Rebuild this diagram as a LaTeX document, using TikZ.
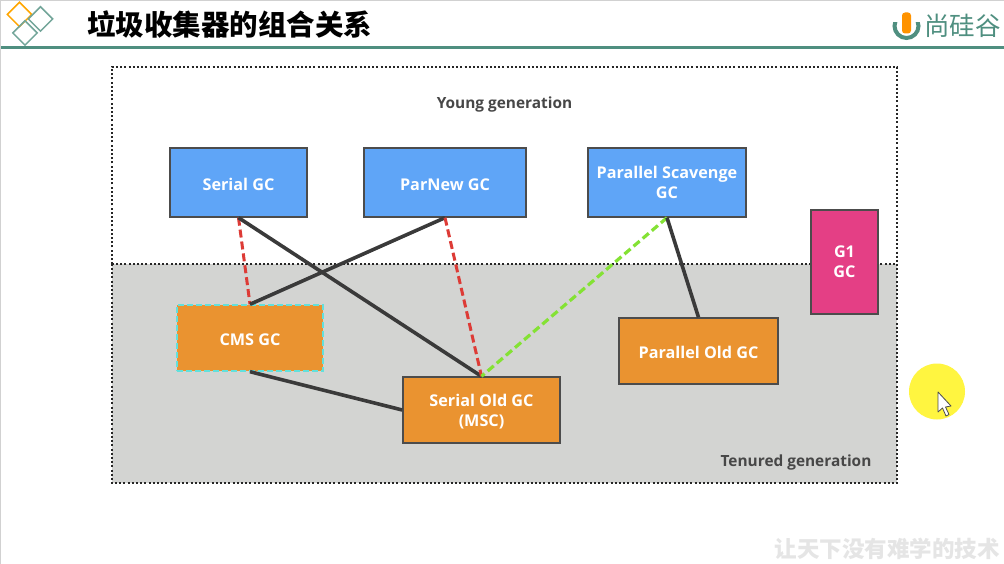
\documentclass[tikz,border=0pt]{standalone}
\usepackage{fontspec}
\setmainfont{Open Sans}
\newfontfamily\cjk{Noto Sans CJK SC}
\usetikzlibrary{shapes.geometric}
\definecolor{gcblue}{HTML}{5FA5F7}
\definecolor{gcorange}{HTML}{EA9330}
\definecolor{gcpink}{HTML}{E43F85}
\definecolor{gcgrey}{HTML}{D3D4D2}
\definecolor{gcteal}{HTML}{4F8F80}
\definecolor{gcline}{HTML}{3A3A3A}
\definecolor{gcred}{HTML}{DD3B36}
\definecolor{gcgreen}{HTML}{84E234}
\definecolor{gccyan}{HTML}{62E0DC}
\tikzset{youngbox/.style={shape=rectangle,draw=black!70,line width=1.4pt,fill=gcblue,text=white,align=center,
		font=\bfseries\fontsize{16.2}{20}\selectfont,minimum height=69pt,inner sep=0pt,
		execute at begin node={\rule{0pt}{16pt}}},
	oldbox/.style={youngbox,fill=gcorange,minimum height=66pt},
	regionline/.style={draw=black!85,line width=1.5pt,dash pattern=on 2pt off 2.2pt},
	region/.style={shape=rectangle,minimum width=785pt,inner sep=0pt},
	regionlabel/.style={font=\bfseries\fontsize{15.4}{18}\selectfont,text=black!72},
	solidlink/.style={draw=gcline,line width=3.6pt},
	redlink/.style={draw=gcred,line width=3pt,dash pattern=on 8pt off 4pt},
	greenlink/.style={draw=gcgreen,line width=3.2pt,dash pattern=on 8pt off 4pt},
	diamondmark/.style={shape=diamond,draw=#1,line width=1.5pt,minimum width=25pt,minimum height=25pt,inner sep=0pt}}

\begin{document}
\begin{tikzpicture}[x=1pt,y=-1pt]
		\useasboundingbox (0,0) rectangle (1004,564);
		\fill[white] (0,0) rectangle (1004,564);
		\fill[black!18] (0,0) rectangle (1004,1.5);
		\fill[black!18] (0,0) rectangle (1,564);
		
		%	heading
		\node[diamondmark=orange!70!yellow] (markA) at (19.5,14.5) {};
		\node[diamondmark=gcteal!80] (markB) at (40.5,19) {};
		\node[diamondmark=gcteal!80] (markC) at (25,33) {};
		\node[anchor=west,inner sep=0pt,font=\cjk\bfseries\fontsize{28.5}{32}\selectfont] (title) at (87,25) {垃圾收集器的组合关系};
		\fill[gcteal] (1,46) rectangle (1004,49.5);
		
		%	logo
		\node[shape=circle,draw=gcteal,line width=4pt,minimum size=24pt,inner sep=0pt,fill=white] (logo) at (906.5,26) {};
		\fill[white] (893,11) rectangle (920,22);
		\node[shape=rectangle,rounded corners=3pt,fill=orange!85!yellow,minimum width=9pt,minimum height=21pt,inner sep=0pt] (logoU) at (906.5,23) {};
		\node[anchor=west,inner sep=0pt,text=gcteal,font=\cjk\fontsize{25.5}{28}\selectfont] (brand) at (924,26) {尚硅谷};
		
		%	regions
		\node[region,minimum height=197pt] (young) at (504.5,165.5) {};
		\node[region,minimum height=219pt,fill=gcgrey] (tenured) at (504.5,373.5) {};
		\draw[regionline] (young.south west) -- (young.north west) -- (young.north east) -- (young.south east);
		\draw[regionline] (tenured.north west) rectangle (tenured.south east);
		\node[regionlabel] (younglabel) at (504.5,104.5) {Young generation};
		\node[regionlabel] (tenuredlabel) at (796,462.5) {Tenured generation};
		
		\node[youngbox,minimum width=137pt] (serial) at (238.5,182.5) {Serial GC};
		\node[youngbox,minimum width=162pt] (parnew) at (445,182.5) {ParNew GC};
		\node[youngbox,text depth=-8pt,minimum width=158pt] (scavenge) at (667,182.5) {Parallel Scavenge\\GC};
		\node[youngbox,text depth=-6pt,fill=gcpink,minimum width=67pt,minimum height=104pt] (g1) at (844.5,262) {G1\\GC};
		\node[oldbox,draw=gccyan,dash pattern=on 6pt off 3pt,minimum width=146pt] (cms) at (250,338) {CMS GC};
		\node[oldbox,minimum width=159pt] (parold) at (698.5,351) {Parallel Old GC};
		\node[oldbox,text depth=-3.5pt,minimum width=157pt] (serialold) at (481.5,410) {Serial Old GC\\(MSC)};
		
		\path [redlink](serial.south) edge node {} (cms.north);
		\path [solidlink](serial.south) edge node {} (serialold.north);
		\path [solidlink](parnew.south) edge node {} (cms.north);
		\path [redlink](parnew.south) edge node {} (serialold.north);
		\path [greenlink](scavenge.south) edge node {} (serialold.north);
		\path [solidlink](scavenge.south) edge node {} (parold.north);
		\path [solidlink](cms.south) edge node {} (serialold.west);
		
		%	pointer
		\node[shape=circle,fill=yellow!75!white,minimum size=56pt,inner sep=0pt] (spot) at (937,391.5) {};
		\draw[fill=white,draw=black!70,line width=0.8pt,line join=round] (938,392) -- (938,412) -- (942.5,408) -- (946,416) -- (949,414.5) -- (945.5,407) -- (951,406) -- cycle;
		
		%	footer
		\node[anchor=east,inner sep=0pt,text=black!10,font=\cjk\bfseries\fontsize{22.5}{24}\selectfont] (slogan) at (1000,549) {让天下没有难学的技术};
\end{tikzpicture}
\end{document}
